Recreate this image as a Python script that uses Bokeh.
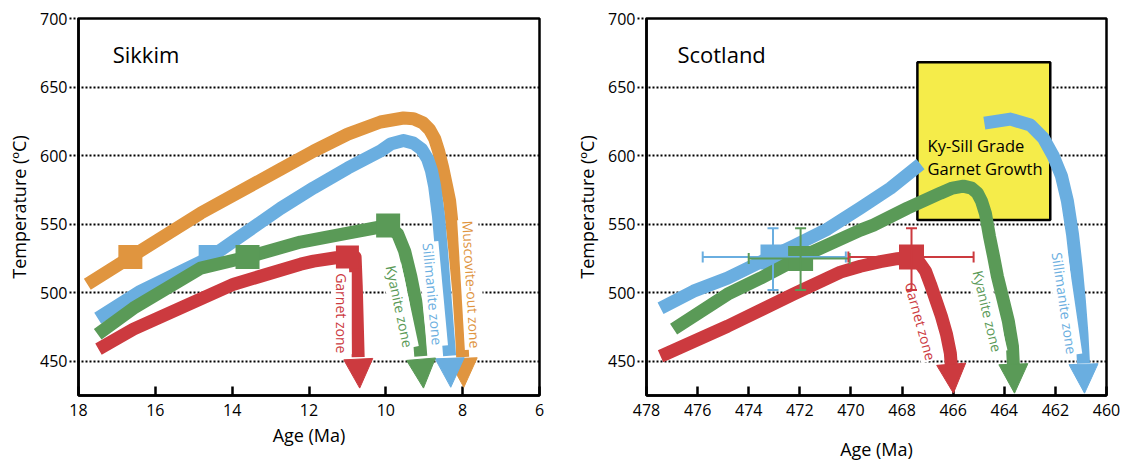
import math
from bokeh.plotting import figure
from bokeh.models import Range1d, FixedTicker, Arrow, NormalHead, Whisker, TeeHead, ColumnDataSource
from bokeh.layouts import row
from bokeh.embed import file_html
from bokeh.resources import INLINE
from bokeh.core.properties import value

FONT = "Open Sans"
ORANGE = "#E0953F"
BLUE = "#6AAEE0"
GREEN = "#5A9A57"
RED = "#CC3A3F"
YELLOW = "#F5EC4A"

# ---------------- data ----------------
temp_ticks = [450, 500, 550, 600, 650, 700]
grid_temps = [450, 500, 550, 600, 650]
sikkim_age_ticks = [18, 16, 14, 12, 10, 8, 6]
scotland_age_ticks = [478, 476, 474, 472, 470, 468, 466, 464, 462, 460]

# Sikkim P-T-t paths (age Ma, temperature C)
sik_musc_age = [17.77, 16.65, 14.82, 12.74, 11.88, 10.99, 10.14, 9.54, 9.28, 9.04, 8.86, 8.73, 8.63, 8.52,
                8.42, 8.34, 8.2, 8.1, 8.03, 8.0]
sik_musc_temp = [506.2, 525.9, 558, 590, 603.3, 615.7, 624.5, 627.4, 626.9, 624, 618.9, 612.4, 603.6, 591.2,
                 578, 567, 530, 500, 470, 453]
sik_musc_tip = [7.97, 431]
sik_musc_square = [16.65, 526]

sik_sill_age = [17.5, 16.39, 14.56, 12.74, 11.88, 10.99, 10.14, 9.88, 9.54, 9.28, 9.07, 8.91, 8.81, 8.73,
                8.68, 8.63, 8.55, 8.47, 8.39, 8.34]
sik_sill_temp = [481.4, 501, 526, 561.5, 576.5, 590.9, 603.3, 608.4, 611, 609.1, 604.7, 597.4, 588.7, 577.7,
                 566.8, 555.8, 530.3, 501.1, 471.9, 454]
sik_sill_tip = [8.31, 431]
sik_sill_square = [14.56, 526]

sik_kya_age = [17.5, 16.57, 14.82, 13.6, 12.22, 10.99, 9.94, 9.69, 9.51, 9.35, 9.22, 9.14, 9.09]
sik_kya_temp = [469.7, 488.7, 517.9, 526, 536.9, 543.4, 549, 542.7, 530.3, 512, 493.8, 471.9, 453.6]
sik_kya_tip = [9.02, 430.4]
sik_kya_squares_age = [13.6, 9.94]
sik_kya_squares_temp = [526, 549]

sik_grt_age = [17.48, 16.57, 13.96, 12.22, 11.88, 11.3, 10.8, 10.77, 10.72]
sik_grt_temp = [458.8, 473.4, 506.2, 520.8, 523, 525.5, 526, 505, 453]
sik_grt_tip = [10.68, 430.4]
sik_grt_square = [11.0, 526]

sik_labels = ["Garnet zone", "Kyanite zone", "Sillimanite zone", "Muscovite-out zone"]
sik_label_age = [11.16, 9.64, 8.78, 7.77]
sik_label_temp = [485, 490, 499, 506]
sik_label_angle_deg = [-90, -78, -84.7, -86.6]

# Scotland P-T-t paths
sco_sill_age_a = [477.45, 476.16, 474.83, 473.07, 472.25, 470.92, 469.63, 468.45, 467.28]
sco_sill_temp_a = [488.7, 501.1, 510.6, 526.6, 533.9, 546.4, 561.7, 576.3, 593.8]
sco_sill_age_b = [464.78, 463.76, 462.98, 462.47, 462.08, 461.76, 461.53, 461.33, 461.18, 461.06, 460.96, 460.9]
sco_sill_temp_b = [623.7, 626.6, 622.3, 612.8, 599.6, 585.0, 566.8, 542.7, 517.9, 493.8, 469.7, 448.5]
sco_sill_tip = [460.86, 426.7]

sco_kya_age = [476.94, 474.83, 473.54, 472.05, 469.63, 469.12, 467.79, 466.5, 466.03, 465.6, 465.28, 465.05,
               464.89, 464.74, 464.58, 464.42, 464.27, 464.03, 463.84, 463.68, 463.64]
sco_kya_temp = [473.4, 498.9, 510.6, 525.2, 545.6, 549.3, 561.7, 572.6, 576.3, 577.7, 576.3, 572.6,
                566.8, 558, 541.2, 526.6, 512.0, 493.8, 479.2, 460.9, 446]
sco_kya_tip = [463.6, 426.7]

sco_grt_age = [477.45, 474.83, 472.25, 470.41, 469.63, 468.85, 468.18, 467.63, 467.36, 467.08, 466.89, 466.69,
               466.46, 466.26, 466.11, 466.07]
sco_grt_temp = [453.6, 475.5, 498.9, 515, 519.3, 522.6, 524.8, 525.9, 523.0, 515.7, 506.2, 495.3,
                482.8, 469.7, 455.8, 446]
sco_grt_tip = [465.99, 426.7]

# Scotland data points with error bars (blue, green, red)
sco_pt_age = [473.05, 471.97, 467.63]
sco_pt_temp = [526, 525, 526]
sco_pt_age_lo = [475.8, 474.0, 470.1]
sco_pt_age_hi = [470.2, 470.05, 465.2]
sco_pt_temp_lo = [502, 502, 502]
sco_pt_temp_hi = [547, 547, 547]

sco_box_age = [467.4, 462.2]
sco_box_temp = [553, 668]
sco_box_text = ["Ky-Sill Grade", "Garnet Growth"]
sco_box_text_age = [467.0, 467.0]
sco_box_text_temp = [607.7, 590.9]

sco_labels = ["Garnet zone", "Kyanite zone", "Sillimanite zone"]
sco_label_age = [467.28, 464.66, 461.65]
sco_label_temp = [479.2, 486.5, 492.3]
sco_label_angle_deg = [-74.4, -76.6, -81.7]

titles = ["Sikkim", "Scotland"]
title_pos = [[17.11, 674], [476.79, 674]]

LW = 13


def make_fig(xr, xticks, width, left, right, xlabel_standoff):
    p = figure(width=width, height=464, x_range=Range1d(*xr), y_range=Range1d(425, 700),
               output_backend="svg", toolbar_location=None,
               min_border_left=left, min_border_right=right,
               min_border_top=18, min_border_bottom=69)
    p.background_fill_color = "white"
    p.border_fill_color = "white"
    p.outline_line_color = "black"
    p.outline_line_width = 2.5
    p.outline_line_alpha = 1.0
    p.xgrid.visible = False
    p.ygrid.ticker = FixedTicker(ticks=grid_temps)
    p.ygrid.grid_line_color = "black"
    p.ygrid.grid_line_dash = "2 2"
    p.ygrid.grid_line_width = 2

    xa = p.xaxis[0]
    xa.ticker = FixedTicker(ticks=xticks)
    xa.axis_line_color = "black"
    xa.axis_line_width = 2.5
    xa.major_tick_in = 9
    xa.major_tick_out = 0
    xa.major_tick_line_width = 2.5
    xa.minor_tick_line_color = None
    xa.major_label_standoff = 8
    xa.major_label_text_font = FONT
    xa.major_label_text_font_size = "16px"
    xa.major_label_text_color = "black"
    xa.axis_label = "Age (Ma)"
    xa.axis_label_text_font = FONT
    xa.axis_label_text_font_size = "18px"
    xa.axis_label_text_font_style = "normal"
    xa.axis_label_text_color = "black"
    xa.axis_label_standoff = xlabel_standoff

    ya = p.yaxis[0]
    ya.ticker = FixedTicker(ticks=temp_ticks)
    ya.axis_line_color = "black"
    ya.axis_line_width = 2.5
    ya.major_tick_in = 0
    ya.major_tick_out = 9
    ya.major_tick_line_dash = "2 2"
    ya.major_tick_line_width = 2
    ya.minor_tick_line_color = None
    ya.major_label_standoff = 2
    ya.major_label_text_font = FONT
    ya.major_label_text_font_size = "16px"
    ya.major_label_text_color = "black"
    ya.axis_label = "Temperature (ºC)"
    ya.axis_label_text_font = FONT
    ya.axis_label_text_font_size = "18px"
    ya.axis_label_text_font_style = "normal"
    ya.axis_label_text_color = "black"
    ya.axis_label_standoff = 6
    return p


def path(p, ages, temps, color, tip=None):
    p.line(ages, temps, line_color=color, line_width=LW, line_join="round", line_cap="butt")
    if tip is not None:
        p.add_layout(Arrow(end=NormalHead(size=29, fill_color=color, line_color=color, line_width=1),
                           x_start=ages[-1], y_start=temps[-1], x_end=tip[0], y_end=tip[1],
                           line_alpha=0))


def zone_labels(p, xs, ys, texts, angles, colors):
    for x, y, t, a, c in zip(xs, ys, texts, angles, colors):
        p.text(x=[x], y=[y], text=[t], angle=math.radians(a), text_color=c,
               text_font=value(FONT), text_font_size="14px",
               text_align="center", text_baseline="middle",
               background_fill_color="white", padding=1)


# ---------------- Sikkim ----------------
p1 = make_fig((18, 6), sikkim_age_ticks, 560, 78, 21, 4)
path(p1, sik_musc_age, sik_musc_temp, ORANGE, sik_musc_tip)
p1.scatter([sik_musc_square[0]], [sik_musc_square[1]], marker="square", size=24, fill_color=ORANGE, line_color=None)
path(p1, sik_sill_age, sik_sill_temp, BLUE, sik_sill_tip)
p1.scatter([sik_sill_square[0]], [sik_sill_square[1]], marker="square", size=24, fill_color=BLUE, line_color=None)
path(p1, sik_kya_age, sik_kya_temp, GREEN, sik_kya_tip)
p1.scatter(sik_kya_squares_age, sik_kya_squares_temp, marker="square", size=24, fill_color=GREEN, line_color=None)
path(p1, sik_grt_age, sik_grt_temp, RED, sik_grt_tip)
p1.scatter([sik_grt_square[0]], [sik_grt_square[1]], marker="square", size=23, fill_color=RED, line_color=None)
zone_labels(p1, sik_label_age, sik_label_temp, sik_labels, sik_label_angle_deg, [RED, GREEN, BLUE, ORANGE])
p1.text(x=[title_pos[0][0]], y=[title_pos[0][1]], text=[titles[0]], text_font=value(FONT),
        text_font_size="22px", text_color="black", text_align="left", text_baseline="alphabetic")

# ---------------- Scotland ----------------
p2 = make_fig((478, 460), scotland_age_ticks, 566, 86, 20, 18)
p2.quad(left=[sco_box_age[0]], right=[sco_box_age[1]], bottom=[sco_box_temp[0]], top=[sco_box_temp[1]],
        fill_color=YELLOW, line_color="black", line_width=2.5)
p2.text(x=sco_box_text_age, y=sco_box_text_temp, text=sco_box_text, text_font=value(FONT),
        text_font_size="16.5px", text_color="black", text_align="left", text_baseline="alphabetic")

pt_colors = [BLUE, GREEN, RED]
paths2 = [
    ([sco_sill_age_a, sco_sill_age_b], [sco_sill_temp_a, sco_sill_temp_b], sco_sill_tip),
    ([sco_kya_age], [sco_kya_temp], sco_kya_tip),
    ([sco_grt_age], [sco_grt_temp], sco_grt_tip),
]
for i, c in enumerate(pt_colors):
    src = ColumnDataSource(dict(x=[sco_pt_age[i]], y=[sco_pt_temp[i]],
                                xl=[sco_pt_age_lo[i]], xu=[sco_pt_age_hi[i]],
                                yl=[sco_pt_temp_lo[i]], yu=[sco_pt_temp_hi[i]]))
    p2.add_layout(Whisker(base="y", lower="xl", upper="xu", dimension="width", source=src,
                          line_color=c, line_width=2, level="glyph",
                          lower_head=TeeHead(size=11, line_color=c, line_width=2),
                          upper_head=TeeHead(size=11, line_color=c, line_width=2)))
    p2.add_layout(Whisker(base="x", lower="yl", upper="yu", dimension="height", source=src,
                          line_color=c, line_width=2, level="glyph",
                          lower_head=TeeHead(size=11, line_color=c, line_width=2),
                          upper_head=TeeHead(size=11, line_color=c, line_width=2)))
    ages_list, temps_list, tip = paths2[i]
    for k, (a, t) in enumerate(zip(ages_list, temps_list)):
        path(p2, a, t, c, tip if k == len(ages_list) - 1 else None)
    p2.scatter([sco_pt_age[i]], [sco_pt_temp[i]], marker="square", size=25, fill_color=c, line_color=None)

zone_labels(p2, sco_label_age, sco_label_temp, sco_labels, sco_label_angle_deg, [RED, GREEN, BLUE])
p2.text(x=[title_pos[1][0]], y=[title_pos[1][1]], text=[titles[1]], text_font=value(FONT),
        text_font_size="22px", text_color="black", text_align="left", text_baseline="alphabetic")

layout = row(p1, p2)
open("out.html", "w").write(file_html(layout, INLINE))
